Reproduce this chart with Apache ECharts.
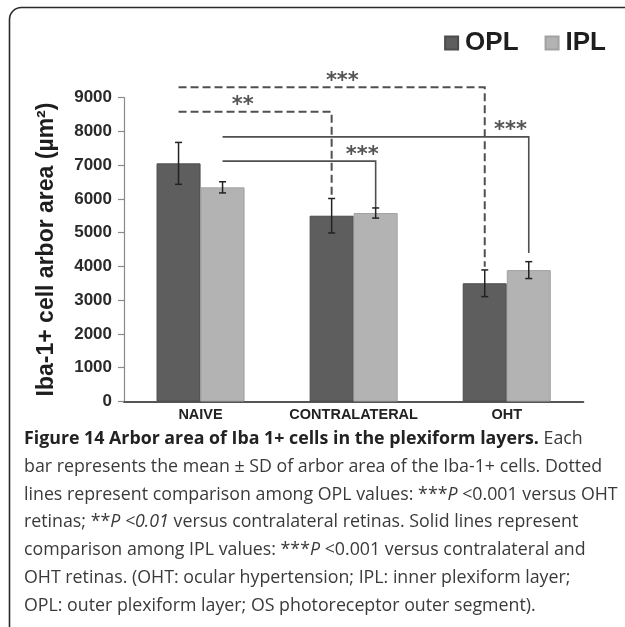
<!DOCTYPE html>
<html>
<head>
<meta charset="utf-8">
<script src="https://cdn.jsdelivr.net/npm/echarts@6/dist/echarts.min.js"></script>
<style>
html,body{margin:0;padding:0;background:#fff;}
#chart{width:625px;height:627px;}
</style>
</head>
<body>
<div id="chart"></div>
<script>
// ---- data ----
const categories = ['NAIVE', 'CONTRALATERAL', 'OHT'];
const seriesNames = ['OPL', 'IPL'];
const oplMean = [7050, 5500, 3500];
const oplSD   = [620, 510, 395];
const iplMean = [6340, 5580, 3890];
const iplSD   = [165, 150, 250];
const yMin = 0, yMax = 9000, yInterval = 1000;

// significance brackets: from [category, series] to [category, series], bracket level, drop end value
const bracketFrom  = [[0, 0], [0, 0], [0, 1], [0, 1]];
const bracketTo    = [[2, 0], [1, 0], [2, 1], [1, 1]];
const bracketLevel = [9300, 8575, 7835, 7115];
const bracketDrop  = [3990, 6010, 4400, 5730];
const bracketDash  = [true, true, false, false];
const bracketStars = ['***', '**', '***', '***'];

const captionLines = [
  '{b|Figure 14 Arbor area of Iba 1+ cells in the plexiform layers.} Each',
  'bar represents the mean ± SD of arbor area of the Iba-1+ cells. Dotted',
  'lines represent comparison among OPL values: ***{i|P} <0.001 versus OHT',
  'retinas; **{i|P <0.01} versus contralateral retinas. Solid lines represent',
  'comparison among IPL values: ***{i|P} <0.001 versus contralateral and',
  'OHT retinas. (OHT: ocular hypertension; IPL: inner plexiform layer;',
  'OPL: outer plexiform layer; OS photoreceptor outer segment).'
];

// ---- style / layout ----
const BAR_FRAC = 0.2875;
const colors = ['#5e5e5e', '#b3b3b3'];
const starFrac = [0.535, 0.42, 0.94, 0.912];
const FONT = 'Liberation Sans, Arial, sans-serif';
const CAP_SIZE = 17.8;

const chart = echarts.init(document.getElementById('chart'), null, {renderer: 'canvas'});

function barX(api, cat, ser) {
  const c = api.coord([cat, 0])[0];
  const band = api.size([1, 0])[0];
  return c + (ser === 0 ? -1 : 1) * band * BAR_FRAC / 2;
}

const errData = [];
for (let i = 0; i < categories.length; i++) {
  errData.push([i, oplMean[i], oplSD[i], 0]);
  errData.push([i, iplMean[i], iplSD[i], 1]);
}

const captionGraphics = captionLines.map((t, k) => ({
  type: 'text',
  x: 24,
  y: 439 + k * 27.8,
  style: {
    text: t,
    fill: '#3a3a3a',
    font: CAP_SIZE + 'px "Open Sans", sans-serif',
    verticalAlign: 'middle',
    rich: {
      b: {fontFamily: 'Open Sans', fontSize: CAP_SIZE, fontWeight: 'bold', fill: '#222'},
      i: {fontFamily: 'Open Sans', fontSize: CAP_SIZE, fontStyle: 'italic', fill: '#3a3a3a'}
    }
  }
}));

const option = {
  animation: false,
  backgroundColor: '#fff',
  grid: {left: 124, right: 41.7, top: 97.5, bottom: 225.5},
  legend: {
    data: seriesNames,
    right: 14,
    top: 25,
    icon: 'rect',
    itemWidth: 13,
    itemHeight: 13,
    itemGap: 26,
    textStyle: {fontFamily: FONT, fontWeight: 'bold', fontSize: 26, color: '#1e1e1e', padding: [0, 0, 0, 2]}
  },
  xAxis: {
    type: 'category',
    data: categories,
    axisLine: {lineStyle: {color: '#555', width: 2}},
    axisTick: {length: 4, lineStyle: {color: '#555', width: 1.5}},
    axisLabel: {interval: 0, fontFamily: FONT, fontWeight: 'bold', fontSize: 14.5, color: '#222', margin: 6}
  },
  yAxis: {
    type: 'value',
    min: yMin, max: yMax, interval: yInterval,
    name: 'Iba-1+ cell arbor area (µm²)',
    nameLocation: 'middle',
    nameRotate: 90,
    nameGap: 66,
    nameTextStyle: {fontFamily: FONT, fontWeight: 'bold', fontSize: 23, color: '#1e1e1e'},
    splitLine: {show: false},
    axisLine: {show: true, lineStyle: {color: '#8a8a8a', width: 1.2}},
    axisTick: {show: true, length: 6, lineStyle: {color: '#8a8a8a', width: 1.2}},
    axisLabel: {fontFamily: FONT, fontWeight: 'bold', fontSize: 17, color: '#2a2a2a', margin: 12,
      formatter: v => String(v)}
  },
  series: [
    {
      name: 'OPL', type: 'bar', data: oplMean, barWidth: (BAR_FRAC * 100) + '%', barGap: '0%',
      itemStyle: {color: colors[0], borderColor: '#4c4c4c', borderWidth: 1}
    },
    {
      name: 'IPL', type: 'bar', data: iplMean, barWidth: (BAR_FRAC * 100) + '%', barGap: '0%',
      itemStyle: {color: colors[1], borderColor: '#a2a2a2', borderWidth: 1}
    },
    {
      type: 'custom', name: 'err', clip: false, z: 5,
      data: errData,
      encode: {x: 0, y: 1},
      renderItem: function (params, api) {
        const cat = api.value(0), m = api.value(1), sd = api.value(2), s = api.value(3);
        const x = barX(api, cat, s);
        const yt = api.coord([cat, m + sd])[1];
        const yb = api.coord([cat, m - sd])[1];
        const st = {stroke: '#222', lineWidth: 1.5};
        return {type: 'group', children: [
          {type: 'line', shape: {x1: x, y1: yt, x2: x, y2: yb}, style: st},
          {type: 'line', shape: {x1: x - 3.5, y1: yt, x2: x + 3.5, y2: yt}, style: st},
          {type: 'line', shape: {x1: x - 3.5, y1: yb, x2: x + 3.5, y2: yb}, style: st}
        ]};
      }
    },
    {
      type: 'custom', name: 'sig', clip: false, z: 4,
      data: bracketLevel.map((l, i) => [bracketFrom[i][0], l]),
      encode: {x: 0, y: 1},
      renderItem: function (params, api) {
        const i = params.dataIndex;
        const x1 = barX(api, bracketFrom[i][0], bracketFrom[i][1]);
        const x2 = barX(api, bracketTo[i][0], bracketTo[i][1]);
        const y = api.coord([0, bracketLevel[i]])[1];
        const yd = api.coord([0, bracketDrop[i]])[1];
        const dashed = bracketDash[i];
        const st = {stroke: '#505050', lineWidth: dashed ? 2 : 1.6, fill: null, lineDash: dashed ? [8, 4] : null};
        const sx = x1 + (x2 - x1) * starFrac[i];
        return {type: 'group', children: [
          {type: 'polyline', shape: {points: [[x1, y], [x2, y], [x2, yd]]}, style: st},
          {type: 'text', style: {text: bracketStars[i], x: sx, y: y - 6, align: 'center', verticalAlign: 'middle',
            fill: '#555', font: 'bold 21px "DejaVu Sans", sans-serif'}}
        ]};
      }
    }
  ],
  graphic: [
    {type: 'rect', shape: {x: 9.5, y: 7.5, width: 700, height: 700, r: 12}, style: {fill: null, stroke: '#2a2a2a', lineWidth: 1.6}, z: -10}
  ].concat(captionGraphics)
};
chart.setOption(option);
</script>
</body>
</html>
